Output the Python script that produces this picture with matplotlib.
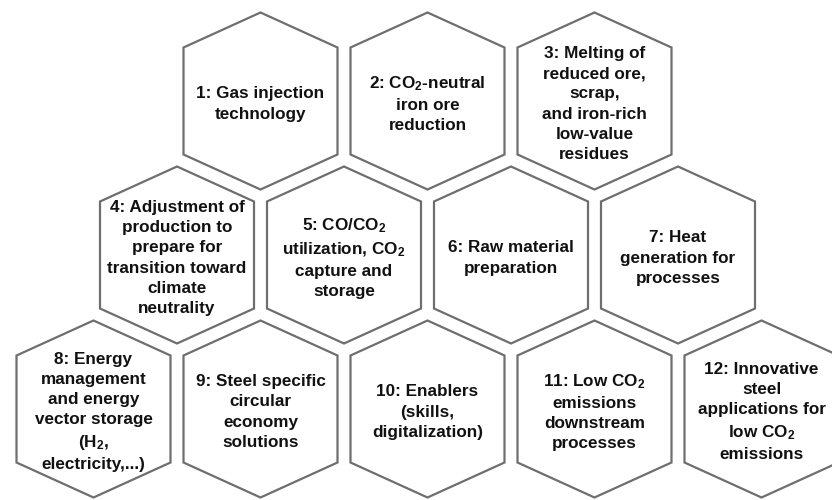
#!/usr/bin/env python3
"""Honeycomb of 12 steel decarbonisation research topics."""
import matplotlib
matplotlib.use("Agg")
import matplotlib.pyplot as plt
from matplotlib.patches import Polygon

plt.rcParams["font.family"] = ["Liberation Sans", "DejaVu Sans"]
plt.rcParams["mathtext.fontset"] = "custom"
plt.rcParams["mathtext.rm"] = "Liberation Sans:bold"
plt.rcParams["mathtext.it"] = "Liberation Sans:bold"
plt.rcParams["mathtext.bf"] = "Liberation Sans:bold"

# ── data ─────────────────────────────────────────────────────────────────────
row_sizes = [3, 4, 5]
labels = [
    "1: Gas injection\ntechnology",
    "2: CO$_2$-neutral\niron ore\nreduction",
    "3: Melting of\nreduced ore,\nscrap,\nand iron-rich\nlow-value\nresidues",
    "4: Adjustment of\nproduction to\nprepare for\ntransition toward\nclimate\nneutrality",
    "5: CO/CO$_2$\nutilization, CO$_2$\ncapture and\nstorage",
    "6: Raw material\npreparation",
    "7: Heat\ngeneration for\nprocesses",
    "8: Energy\nmanagement\nand energy\nvector storage\n(H$_2$,\nelectricity,...)",
    "9: Steel specific\ncircular\neconomy\nsolutions",
    "10: Enablers\n(skills,\ndigitalization)",
    "11: Low CO$_2$\nemissions\ndownstream\nprocesses",
    "12: Innovative\nsteel\napplications for\nlow CO$_2$\nemissions",
]

# ── layout (pixel units) ─────────────────────────────────────────────────────
X_MID, X_STEP = 427.5, 167.0
Y0, Y_STEP = 101.0, 154.0
HALF_W, HALF_H, SHOULDER = 77.0, 88.5, 35.0


def hex_vertices(cx, cy):
    return [
        (cx, cy - HALF_H),
        (cx + HALF_W, cy - HALF_H + SHOULDER),
        (cx + HALF_W, cy + HALF_H - SHOULDER),
        (cx, cy + HALF_H),
        (cx - HALF_W, cy + HALF_H - SHOULDER),
        (cx - HALF_W, cy - HALF_H + SHOULDER),
    ]


fig = plt.figure(figsize=(8.32, 5.0), dpi=100)
ax = fig.add_axes([0, 0, 1, 1])
ax.set_xlim(0, 832)
ax.set_ylim(500, 0)
ax.axis("off")

k = 0
for r, n in enumerate(row_sizes):
    cy = Y0 + r * Y_STEP
    for i in range(n):
        cx = X_MID + (i - (n - 1) / 2) * X_STEP
        ax.add_patch(Polygon(hex_vertices(cx, cy), closed=True, fc="white",
                             ec="#6e6e6e", lw=1.6, joinstyle="miter"))
        ax.text(cx, cy + 3, labels[k], ha="center", va="center",
                fontsize=12.3, fontweight="bold", color="#111111",
                linespacing=1.42)
        k += 1

fig.savefig("out.png", dpi=100)
